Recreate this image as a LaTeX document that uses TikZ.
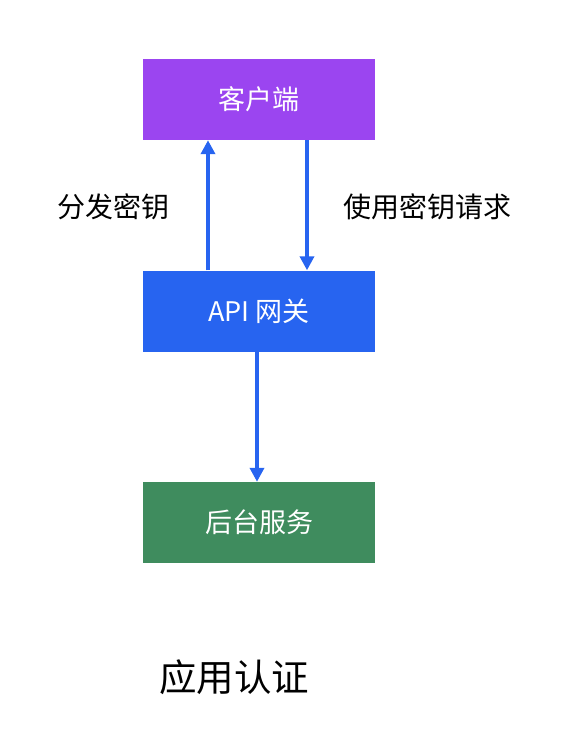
\documentclass[tikz,border=0pt]{standalone}
\usepackage{fontspec}
\setmainfont{Noto Sans CJK SC}
\usetikzlibrary{arrows.meta}
\definecolor{cpurple}{HTML}{9B45F0}
\definecolor{cblue}{HTML}{2764F0}
\definecolor{cgreen}{HTML}{3F8C5E}
\begin{document}
\begin{tikzpicture}[x=1pt,y=-1pt,
  box/.style={draw=none,minimum width=232pt,minimum height=81pt,inner sep=0pt,text=white,font=\fontsize{27}{32}\selectfont},
  conn/.style={draw=cblue,line width=4pt,-{Triangle[width=14pt,length=14pt]}},
  lbl/.style={font=\fontsize{28}{33}\selectfont,text=black}]
\useasboundingbox (0,0) rectangle (584,752);
\node[box,fill=cpurple] (client) at (259,99.5) {客户端};
\node[box,fill=cblue] (gw) at (259,311) {API 网关};
\node[box,fill=cgreen] (backend) at (259,522.5) {后台服务};
\coordinate (x1) at (208,0);
\coordinate (x2) at (307,0);
\coordinate (x3) at (257,0);
\draw[conn] (gw.north -| x1) -- (client.south -| x1);
\draw[conn] (client.south -| x2) -- (gw.north -| x2);
\draw[conn] (gw.south -| x3) -- (backend.north -| x3);
\node[lbl] (l1) at (113,207) {分发密钥};
\node[lbl] (l2) at (427,207) {使用密钥请求};
\node[font=\fontsize{37.5}{44}\selectfont] (title) at (234,677) {应用认证};
\end{tikzpicture}
\end{document}
